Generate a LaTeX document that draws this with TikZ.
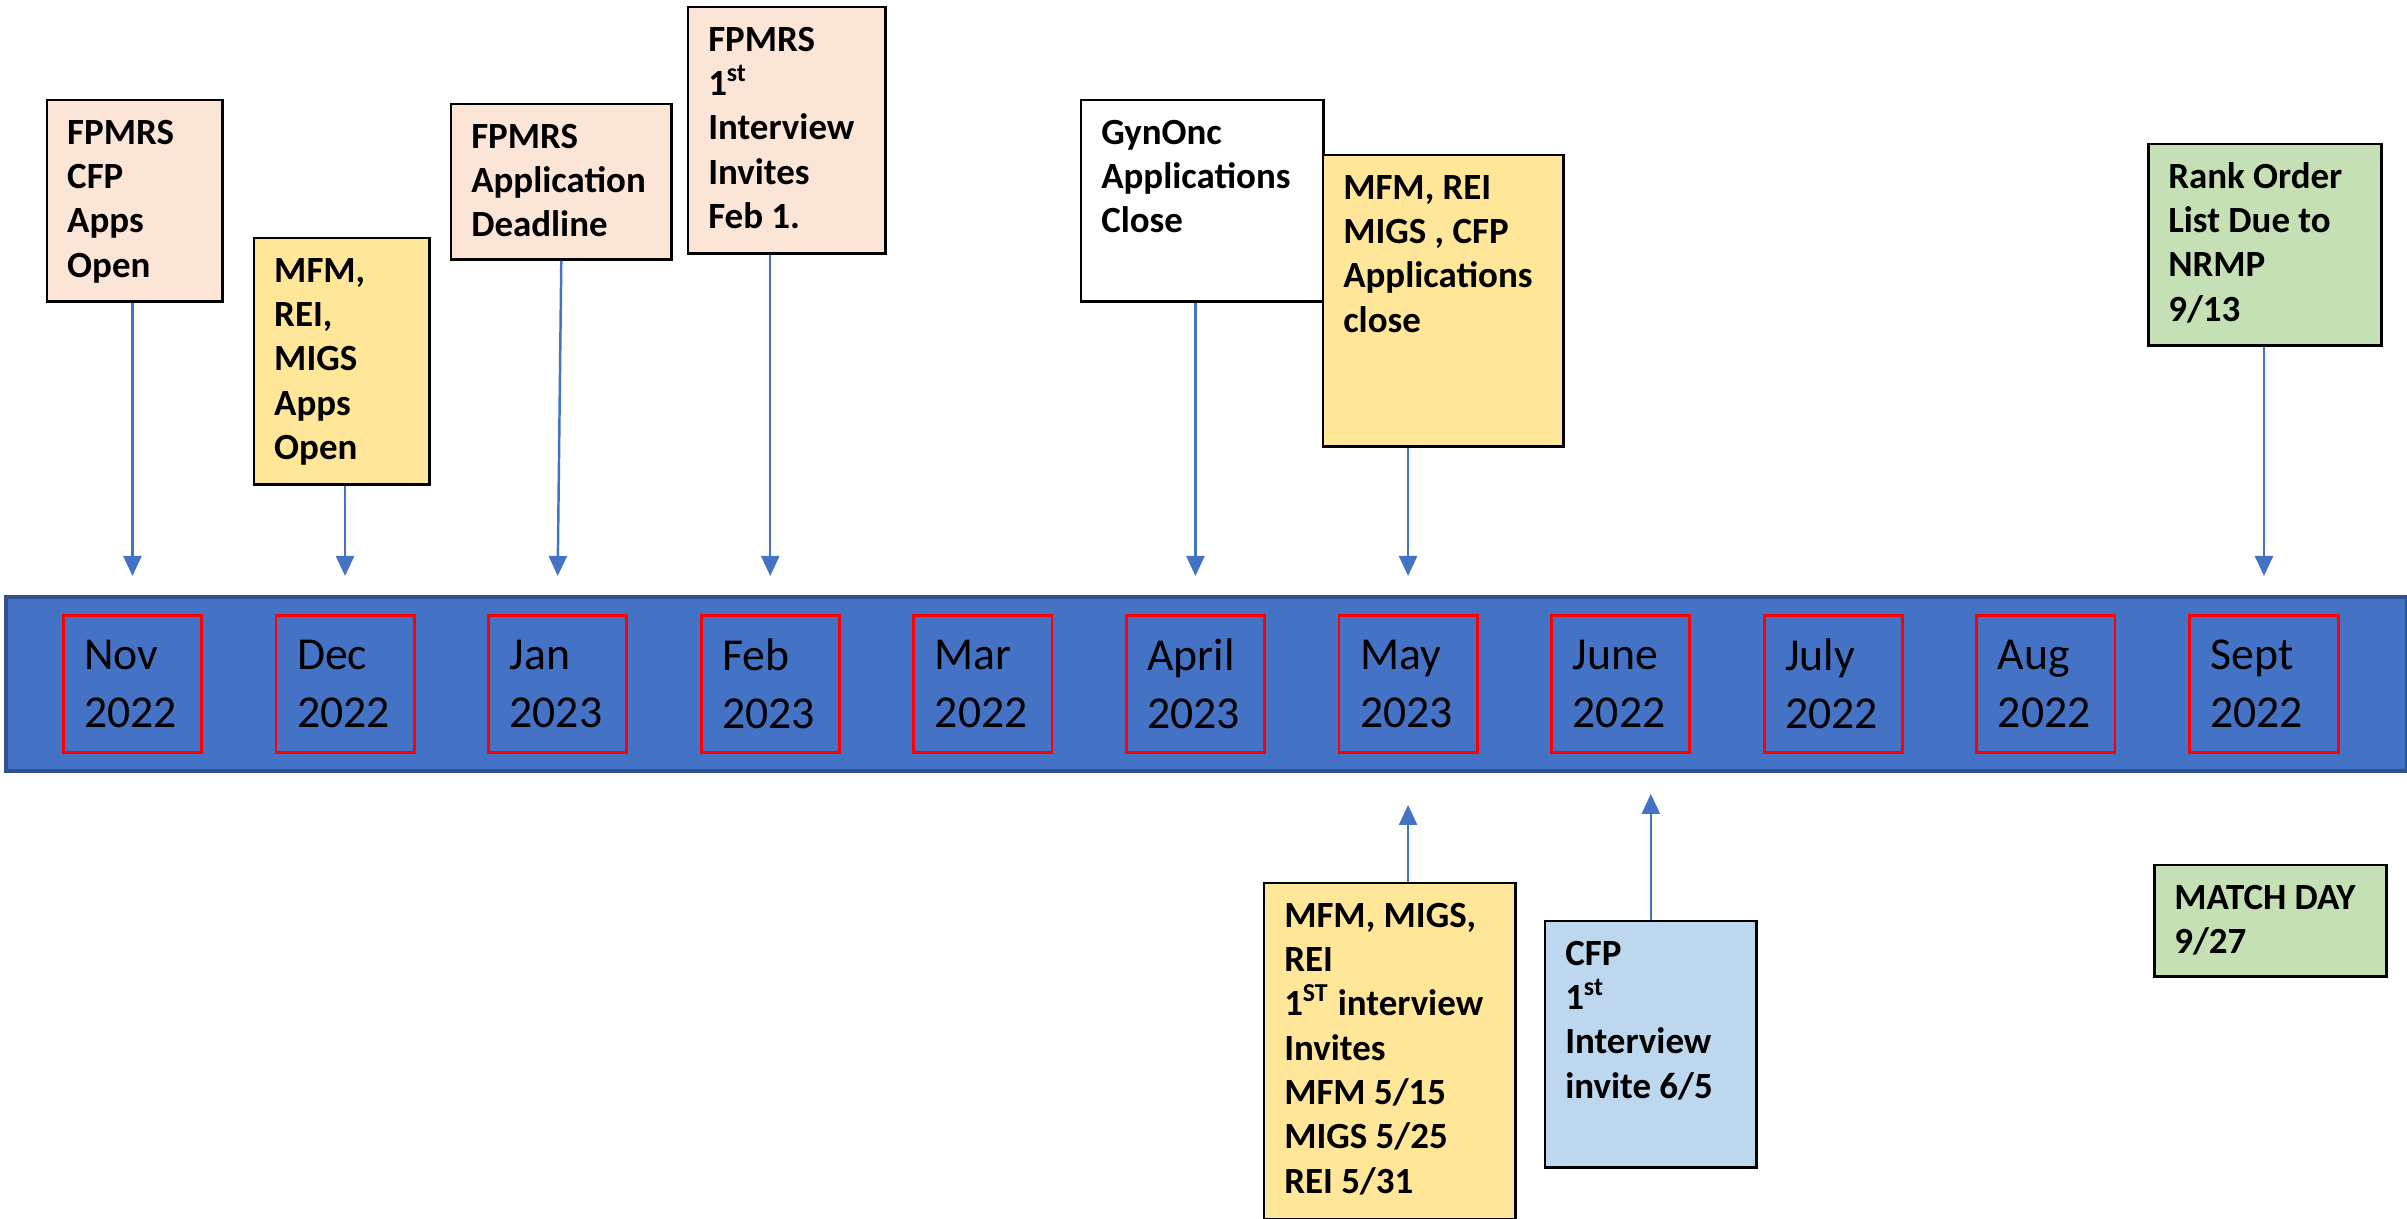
\documentclass[tikz,border=0pt]{standalone}
\usepackage{fontspec}
\setmainfont{Carlito}
\usetikzlibrary{arrows.meta}

\definecolor{tlblue}{HTML}{4472C4}
\definecolor{tledge}{HTML}{2F528F}
\definecolor{peach}{HTML}{FBE5D6}
\definecolor{gold}{HTML}{FFE699}
\definecolor{sage}{HTML}{C5E0B4}
\definecolor{sky}{HTML}{BDD7EE}
\newcommand{\evtext}[3]{\parbox[c][#2][t]{#1}{\raggedright\strut#3}}

\begin{document}
\begin{tikzpicture}[x=0.01cm, y=-0.01cm,
		evbox/.style={draw, line width=0.7pt, anchor=north west, inner xsep=0.2cm, inner ysep=0.13cm,
			font=\bfseries\fontsize{10.5}{12.6}\selectfont},
		month/.style={draw=red, line width=0.8pt, anchor=north west, align=left, inner xsep=0.21cm,
			minimum height=1.37cm, font=\fontsize{13}{16.5}\selectfont},
		pin/.style={draw=tlblue, line width=0.7pt, -{Triangle[width=0.18cm,length=0.2cm]}}]
	\useasboundingbox (0,0) rectangle (2407,1219);

	% the time line
	\node[draw=tledge, fill=tlblue, line width=1pt, anchor=north west, inner sep=0pt,
		minimum width=24cm, minimum height=1.74cm] (band) at (4,595) {};
	\foreach \m/\yr/\w [count=\i from 0] in {Nov/2022/1.38, Dec/2022/1.38, Jan/2023/1.38,
			Feb/2023/1.38, Mar/2022/1.38, April/2023/1.38, May/2023/1.38, June/2022/1.38,
			July/2022/1.38, Aug/2022/1.38, Sept/2022/1.49}
	{
		\pgfmathsetmacro\tw{\w-0.42}
		\node[month, minimum width=\w cm, text width=\tw cm] (m\i) at ({62+212.6*\i},614) {\m\\\yr};
		\coordinate (up\i) at ([yshift=0.38cm]m\i.north);
	}

	% events above
	\node[evbox, fill=peach] (fpmrsOpen) at (46,99) {\evtext{1.35cm}{1.75cm}{FPMRS\\CFP\\Apps\\Open}};
	\node[evbox, fill=gold] (mfmOpen) at (253,237) {\evtext{1.35cm}{2.2cm}{MFM,\\REI,\\MIGS\\Apps\\Open}};
	\node[evbox, fill=peach] (fpmrsDeadline) at (450,103) {\evtext{1.8cm}{1.29cm}{FPMRS\\Application\\Deadline}};
	\node[evbox, fill=peach] (fpmrsInvite) at (687,6) {\evtext{1.57cm}{2.2cm}{FPMRS\\1\textsuperscript{st}\\Interview\\Invites\\Feb 1.}};
	\node[evbox, fill=white] (gyncClose) at (1080,99) {\evtext{2.02cm}{1.75cm}{GynOnc\\Applications\\Close}};
	\node[evbox, fill=gold] (mfmClose) at (1322,154) {\evtext{2cm}{2.65cm}{MFM, REI\\MIGS , CFP\\Applications\\close}};
	\node[evbox, fill=sage] (rankList) at (2147,143) {\evtext{1.93cm}{1.75cm}{Rank Order\\List Due to\\NRMP\\9/13}};

	% events below
	\node[evbox, fill=gold] (mfmInvite) at (1263,882) {\evtext{2.11cm}{3.1cm}{MFM, MIGS,\\REI\\1\textsuperscript{ST} interview\\Invites\\MFM 5/15\\MIGS 5/25\\REI 5/31}};
	\node[evbox, fill=sky] (cfpInvite) at (1544,920) {\evtext{1.71cm}{2.2cm}{CFP\\1\textsuperscript{st}\\Interview\\invite 6/5}};
	\node[evbox, fill=sage] (matchDay) at (2153,864) {\evtext{1.92cm}{0.85cm}{MATCH DAY\\9/27}};

	\coordinate (dnMay) at ([yshift=-0.51cm]m6.south);
	\coordinate (jy) at ([yshift=-0.4cm]m7.south);
	\coordinate (dnJune) at (cfpInvite.north |- jy);

	\draw[pin] (up0 |- fpmrsOpen.south) -- (up0);
	\draw[pin] (up1 |- mfmOpen.south) -- (up1);
	\draw[pin] (fpmrsDeadline.south) -- (up2);
	\draw[pin] (up3 |- fpmrsInvite.south) -- (up3);
	\draw[pin] (up5 |- gyncClose.south) -- (up5);
	\draw[pin] (up6 |- mfmClose.south) -- (up6);
	\draw[pin] (up10 |- rankList.south) -- (up10);
	\draw[pin] (dnMay |- mfmInvite.north) -- (dnMay);
	\draw[pin] (cfpInvite.north) -- (dnJune);
\end{tikzpicture}
\end{document}
